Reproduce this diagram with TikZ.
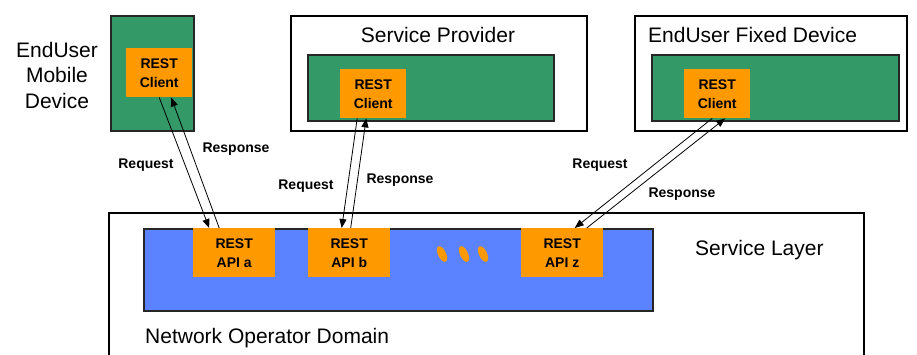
\documentclass[tikz,border=0pt]{standalone}
\usepackage{fontspec}
\setmainfont{Liberation Sans}
\usepackage{xcolor}
\usepackage{tikz}
\usetikzlibrary{arrows.meta,calc}
\definecolor{devgreen}{RGB}{51,153,102}
\definecolor{restorange}{RGB}{255,153,0}
\definecolor{layerblue}{RGB}{91,130,255}

\begin{document}
\begin{tikzpicture}[x=1pt,y=-1pt,
    frame/.style={draw=black,line width=1.6pt,fill=white,inner sep=0pt,anchor=north west},
    device/.style={draw=black!85,line width=1.6pt,fill=devgreen,inner sep=0pt,anchor=north west},
    layer/.style={draw=black!85,line width=1.6pt,fill=layerblue,inner sep=0pt,anchor=north west},
    rest/.style={fill=restorange,inner sep=0pt,anchor=north west,align=center,
      minimum height=49pt,font=\fontsize{14}{19}\selectfont\bfseries},
    title/.style={inner sep=0pt,font=\fontsize{21}{25.5}\selectfont},
    msg/.style={inner sep=0pt,font=\fontsize{14}{16}\selectfont\bfseries},
    link/.style={line width=0.8pt,-{Triangle[length=9pt,width=7pt]}}]
    \useasboundingbox (0,0) rectangle (917,354);
    \clip (0,0) rectangle (917,354);

    % EndUser mobile device
    \node[device,minimum width=83pt,minimum height=115pt] (mobbox) at (110,15) {};
    \node[rest,minimum width=66pt] (mobcli) at (126,48) {REST\\Client};
    \node[title,align=center] (mobname) at (57,75) {EndUser\\Mobile\\Device};

    % Service provider
    \node[frame,minimum width=296pt,minimum height=115pt] (spbox) at (290,15) {};
    \node[device,minimum width=246pt,minimum height=66pt] (spdev) at (307,54) {};
    \node[rest,minimum width=66pt] (spcli) at (340,69) {REST\\Client};
    \node[title,anchor=base] (spname) at (438,42) {Service Provider};

    % EndUser fixed device
    \node[frame,minimum width=272pt,minimum height=115pt] (fixbox) at (634,15) {};
    \node[device,minimum width=247pt,minimum height=66pt] (fixdev) at (651,54) {};
    \node[rest,minimum width=66pt] (fixcli) at (684,69) {REST\\Client};
    \node[title,anchor=base west] (fixname) at (648,42) {EndUser Fixed Device};

    % Network operator domain and service layer
    \node[frame,minimum width=755pt,minimum height=170pt] (domain) at (108,212) {};
    \node[layer,minimum width=509pt,minimum height=82pt] (slayer) at (143,228) {};
    \node[rest,minimum width=82pt] (apia) at (193,228) {REST\\API a};
    \node[rest,minimum width=82pt] (apib) at (308,228) {REST\\API b};
    \node[rest,minimum width=82pt] (apiz) at (521,228) {REST\\API z};
    \foreach \x in {442,464,483}
      \fill[restorange] (\x,254) ellipse [x radius=4,y radius=8.5,rotate=25];
    \node[title,anchor=base west] (slname) at (695,255) {Service Layer};
    \node[title,anchor=base west] (domname) at (145,343) {Network Operator Domain};

    % Requests and responses
    \draw[link] (mobcli.south) -- ($(apia.north)+(-25,0)$);
    \draw[link] ($(apia.north)+(-15,0)$) -- ($(mobcli.south)+(12,0)$);
    \draw[link] ($(spcli.south)+(-16,0)$) -- ($(apib.north)+(-7.5,0)$);
    \draw[link] ($(apib.north)+(1.5,0)$) -- ($(spcli.south)+(-7,0)$);
    \draw[link] ($(fixcli.south)+(-5,0)$) -- ($(apiz.north)+(12.5,0)$);
    \draw[link] ($(apiz.north)+(24.5,0)$) -- ($(fixcli.south)+(8,0)$);

    % Labels on the links
    \node[msg,anchor=base] (mobreq) at (146,168) {Request};
    \node[msg,anchor=base] (mobres) at (236,152) {Response};
    \node[msg,anchor=base] (spreq) at (306,189) {Request};
    \node[msg,anchor=base] (spres) at (400,183) {Response};
    \node[msg,anchor=base] (fixreq) at (600,168) {Request};
    \node[msg,anchor=base] (fixres) at (682,197) {Response};
  \end{tikzpicture}
\end{document}
